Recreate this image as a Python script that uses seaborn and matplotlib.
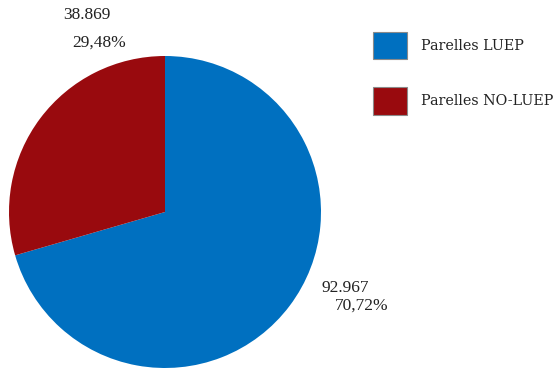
import matplotlib
matplotlib.use("Agg")
import matplotlib.pyplot as plt
import seaborn as sns
from matplotlib.patches import Patch

categories = ["Parelles LUEP", "Parelles NO-LUEP"]
counts = [92967, 38869]
count_labels = ["92.967", "38.869"]
pct_labels = ["70,72%", "29,48%"]
colors = ["#0070C0", "#990A0E"]

sns.set_theme(style="white")
plt.rcParams["font.family"] = ["Liberation Serif", "DejaVu Serif"]

W, H = 557, 368
fig = plt.figure(figsize=(W / 100, H / 100), dpi=100)
fig.patch.set_facecolor("white")

# pie axes: centre (165, 212) px, radius 156 px
cx, cy, r = 165, 212, 156
ax = fig.add_axes([(cx - r) / W, (H - cy - r) / H, 2 * r / W, 2 * r / H])
wedges, _ = ax.pie(counts, colors=colors, startangle=90, counterclock=False,
                   radius=1.0, wedgeprops=dict(linewidth=0))
ax.set_xlim(-1, 1)
ax.set_ylim(-1, 1)
ax.set_aspect("equal")
ax.axis("off")

fs = 12.5
def px_text(x, y, s):
    fig.text(x / W, 1 - y / H, s, fontsize=fs, color="#222222", ha="left", va="center")

# value labels
px_text(63, 15, count_labels[1])
px_text(72, 43, pct_labels[1])
px_text(322, 288, count_labels[0])
px_text(335, 306, pct_labels[0])

lfs = 10.3
handles = [Patch(facecolor=c, edgecolor="#8a8a8a", linewidth=0.8) for c in colors]
leg = fig.legend(handles, categories, loc="upper left",
                 bbox_to_anchor=(373 / W, 1 - 32 / H), frameon=False,
                 borderpad=0, borderaxespad=0,
                 prop={"family": "DejaVu Serif", "size": lfs},
                 handlelength=2.38, handleheight=2.53,
                 labelspacing=1.99, handletextpad=0.95)
for t in leg.get_texts():
    t.set_color("#222222")

fig.savefig("out.png", dpi=100, facecolor="white")
